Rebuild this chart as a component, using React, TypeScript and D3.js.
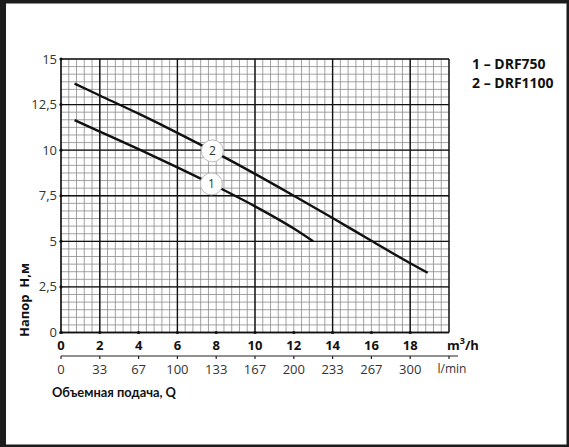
import React from "react";
import * as d3 from "d3";

const W = 569;
const H = 447;

const Q_TICKS = [0, 2, 4, 6, 8, 10, 12, 14, 16, 18];
const LMIN_LABELS = ["0", "33", "67", "100", "133", "167", "200", "233", "267", "300"];
const H_TICKS = [0, 2.5, 5, 7.5, 10, 12.5, 15];
const H_LABELS = ["0", "2,5", "5", "7,5", "10", "12,5", "15"];

const SERIES_NAMES = ["1 – DRF750", "2 – DRF1100"];
const CURVE1_Q = [0.7, 2, 4, 6, 8, 10, 12, 13];
const CURVE1_H = [11.65, 11.02, 10.06, 9.06, 8.02, 6.92, 5.7, 5.0];
const CURVE2_Q = [0.7, 2, 4, 6, 8, 10, 12, 14, 16, 18, 18.9];
const CURVE2_H = [13.65, 13.0, 12.0, 10.95, 9.85, 8.7, 7.5, 6.28, 5.03, 3.8, 3.28];
const MARKER_Q = [7.75, 7.8];
const MARKER_TEXT = ["1", "2"];

const FONT = "'Open Sans', 'DejaVu Sans', sans-serif";
const FONT_NARROW = "Lato, 'Open Sans', sans-serif";

export default function App() {
  const x = d3.scaleLinear().domain([0, 20]).range([61, 449]);
  const y = d3.scaleLinear().domain([0, 15]).range([332.5, 59]);

  const minorV = d3.range(0, 51).map((i) => i * 0.4);
  const minorH = d3.range(0, 37).map((i) => (i * 2.5) / 6);
  const majorV = [2, 6, 10, 14, 18];
  const majorH = H_TICKS;

  const line = d3
    .line<[number, number]>()
    .x((d) => x(d[0]))
    .y((d) => y(d[1]))
    .curve(d3.curveMonotoneX);

  const curves = [
    CURVE1_Q.map((q, i) => [q, CURVE1_H[i]] as [number, number]),
    CURVE2_Q.map((q, i) => [q, CURVE2_H[i]] as [number, number]),
  ];

  const interp = (qs: number[], hs: number[], q: number) => {
    for (let i = 0; i < qs.length - 1; i++) {
      if (q >= qs[i] && q <= qs[i + 1]) {
        const t = (q - qs[i]) / (qs[i + 1] - qs[i]);
        return hs[i] + t * (hs[i + 1] - hs[i]);
      }
    }
    return hs[hs.length - 1];
  };
  const markerH = [
    interp(CURVE1_Q, CURVE1_H, MARKER_Q[0]),
    interp(CURVE2_Q, CURVE2_H, MARKER_Q[1]),
  ];

  const lminY = 356;

  return (
    <svg
      width={W}
      height={H}
      style={{ position: "absolute", left: 0, top: 0, background: "#fff" }}
      fontFamily={FONT}
    >
      <rect x={0} y={0} width={W} height={H} fill="#fff" />
      {/* minor grid */}
      {minorV.map((q, i) => (
        <line key={"mv" + i} x1={x(q)} x2={x(q)} y1={y(0)} y2={y(15)} stroke="#8a8a8a" strokeWidth={0.8} />
      ))}
      {minorH.map((h, i) => (
        <line key={"mh" + i} x1={x(0)} x2={x(20)} y1={y(h)} y2={y(h)} stroke="#8a8a8a" strokeWidth={0.8} />
      ))}
      {/* major grid */}
      {majorV.map((q, i) => (
        <line key={"Mv" + i} x1={x(q)} x2={x(q)} y1={y(0)} y2={y(15)} stroke="#111" strokeWidth={1.4} />
      ))}
      {majorH.map((h, i) => (
        <line key={"Mh" + i} x1={x(0)} x2={x(20)} y1={y(h)} y2={y(h)} stroke="#111" strokeWidth={1.4} />
      ))}
      <line x1={x(20)} x2={x(20)} y1={y(0)} y2={y(15)} stroke="#111" strokeWidth={1.4} />
      <line x1={x(0)} x2={x(0)} y1={y(0)} y2={y(15)} stroke="#111" strokeWidth={1.6} />
      <line x1={x(0)} x2={x(20)} y1={y(0)} y2={y(0)} stroke="#111" strokeWidth={1.6} />

      {/* y ticks */}
      {H_TICKS.map((h, i) => (
        <g key={"yt" + i}>
          <circle cx={x(0)} cy={y(h)} r={1.6} fill="#111" />
          <text x={x(0) - 4} y={y(h)} dy="0.35em" textAnchor="end" fontSize={13} fill="#333">
            {H_LABELS[i]}
          </text>
        </g>
      ))}

      {/* x ticks m3/h */}
      {Q_TICKS.map((q, i) => (
        <g key={"xt" + i}>
          <circle cx={x(q)} cy={y(0)} r={1.6} fill="#111" />
          <text x={x(q)} y={y(0) + 13} dy="0.35em" textAnchor="middle" fontSize={13} fontWeight="bold" fill="#111">
            {q}
          </text>
        </g>
      ))}
      <text y={y(0) + 13} dy="0.35em" fontSize={13} fontWeight="bold" fill="#111" textAnchor="start">
        <tspan x={447}>m</tspan>
        <tspan dy={-6} fontSize={9}>3</tspan>
        <tspan dy={6}>/h</tspan>
      </text>

      {/* l/min axis */}
      <line x1={x(0)} x2={x(20) + 9} y1={lminY} y2={lminY} stroke="#222" strokeWidth={1.2} />
      {Q_TICKS.concat([20]).map((q, i) => (
        <line key={"lt" + i} x1={x(q)} x2={x(q)} y1={lminY} y2={lminY + 3} stroke="#222" strokeWidth={1.2} />
      ))}
      {LMIN_LABELS.map((l, i) => (
        <text key={"ll" + i} x={x(Q_TICKS[i])} y={lminY + 13} dy="0.35em" textAnchor="middle" fontSize={13} fill="#333">
          {l}
        </text>
      ))}
      <text x={x(20) + 3} y={lminY + 13} dy="0.35em" textAnchor="middle" fontSize={12} fill="#333">
        l/min
      </text>

      {/* axis titles */}
      <text
        x={52}
        y={392}
        dy="0.35em"
        fontSize={13.5}
        fontWeight="bold"
        fill="#111"
        fontFamily={FONT_NARROW}
        textLength={124}
        lengthAdjust="spacingAndGlyphs"
      >
        Объемная подача, Q
      </text>
      <text
        transform={`translate(24,${300}) rotate(-90)`}
        textAnchor="middle"
        dy="0.35em"
        fontSize={13}
        fontWeight="bold"
        fill="#111"
        style={{ whiteSpace: "pre" }}
      >
        {"Напор  H,м"}
      </text>

      {/* curves */}
      {curves.map((c, i) => (
        <path key={"c" + i} d={line(c) || ""} fill="none" stroke="#111" strokeWidth={2.4} />
      ))}

      {/* markers */}
      {MARKER_Q.map((q, i) => (
        <g key={"m" + i}>
          <circle cx={x(q)} cy={y(markerH[i])} r={11} fill="#fff" stroke="#bbb" strokeWidth={1} />
          <text x={x(q)} y={y(markerH[i])} dy="0.35em" textAnchor="middle" fontSize={12} fill="#333">
            {MARKER_TEXT[i]}
          </text>
        </g>
      ))}

      {/* legend */}
      {SERIES_NAMES.map((s, i) => (
        <text key={"lg" + i} x={472} y={64 + i * 19} dy="0.35em" fontSize={14} fontWeight="bold" fill="#111">
          {s}
        </text>
      ))}

      {/* dark frame */}
      <rect x={0} y={0} width={W} height={3.5} fill="#1c1c1c" />
      <rect x={0} y={0} width={6} height={H} fill="#1c1c1c" />
      <rect x={W - 2.5} y={0} width={2.5} height={H} fill="#1c1c1c" />
      <rect x={0} y={H - 2.5} width={W} height={2.5} fill="#1c1c1c" />
    </svg>
  );
}
